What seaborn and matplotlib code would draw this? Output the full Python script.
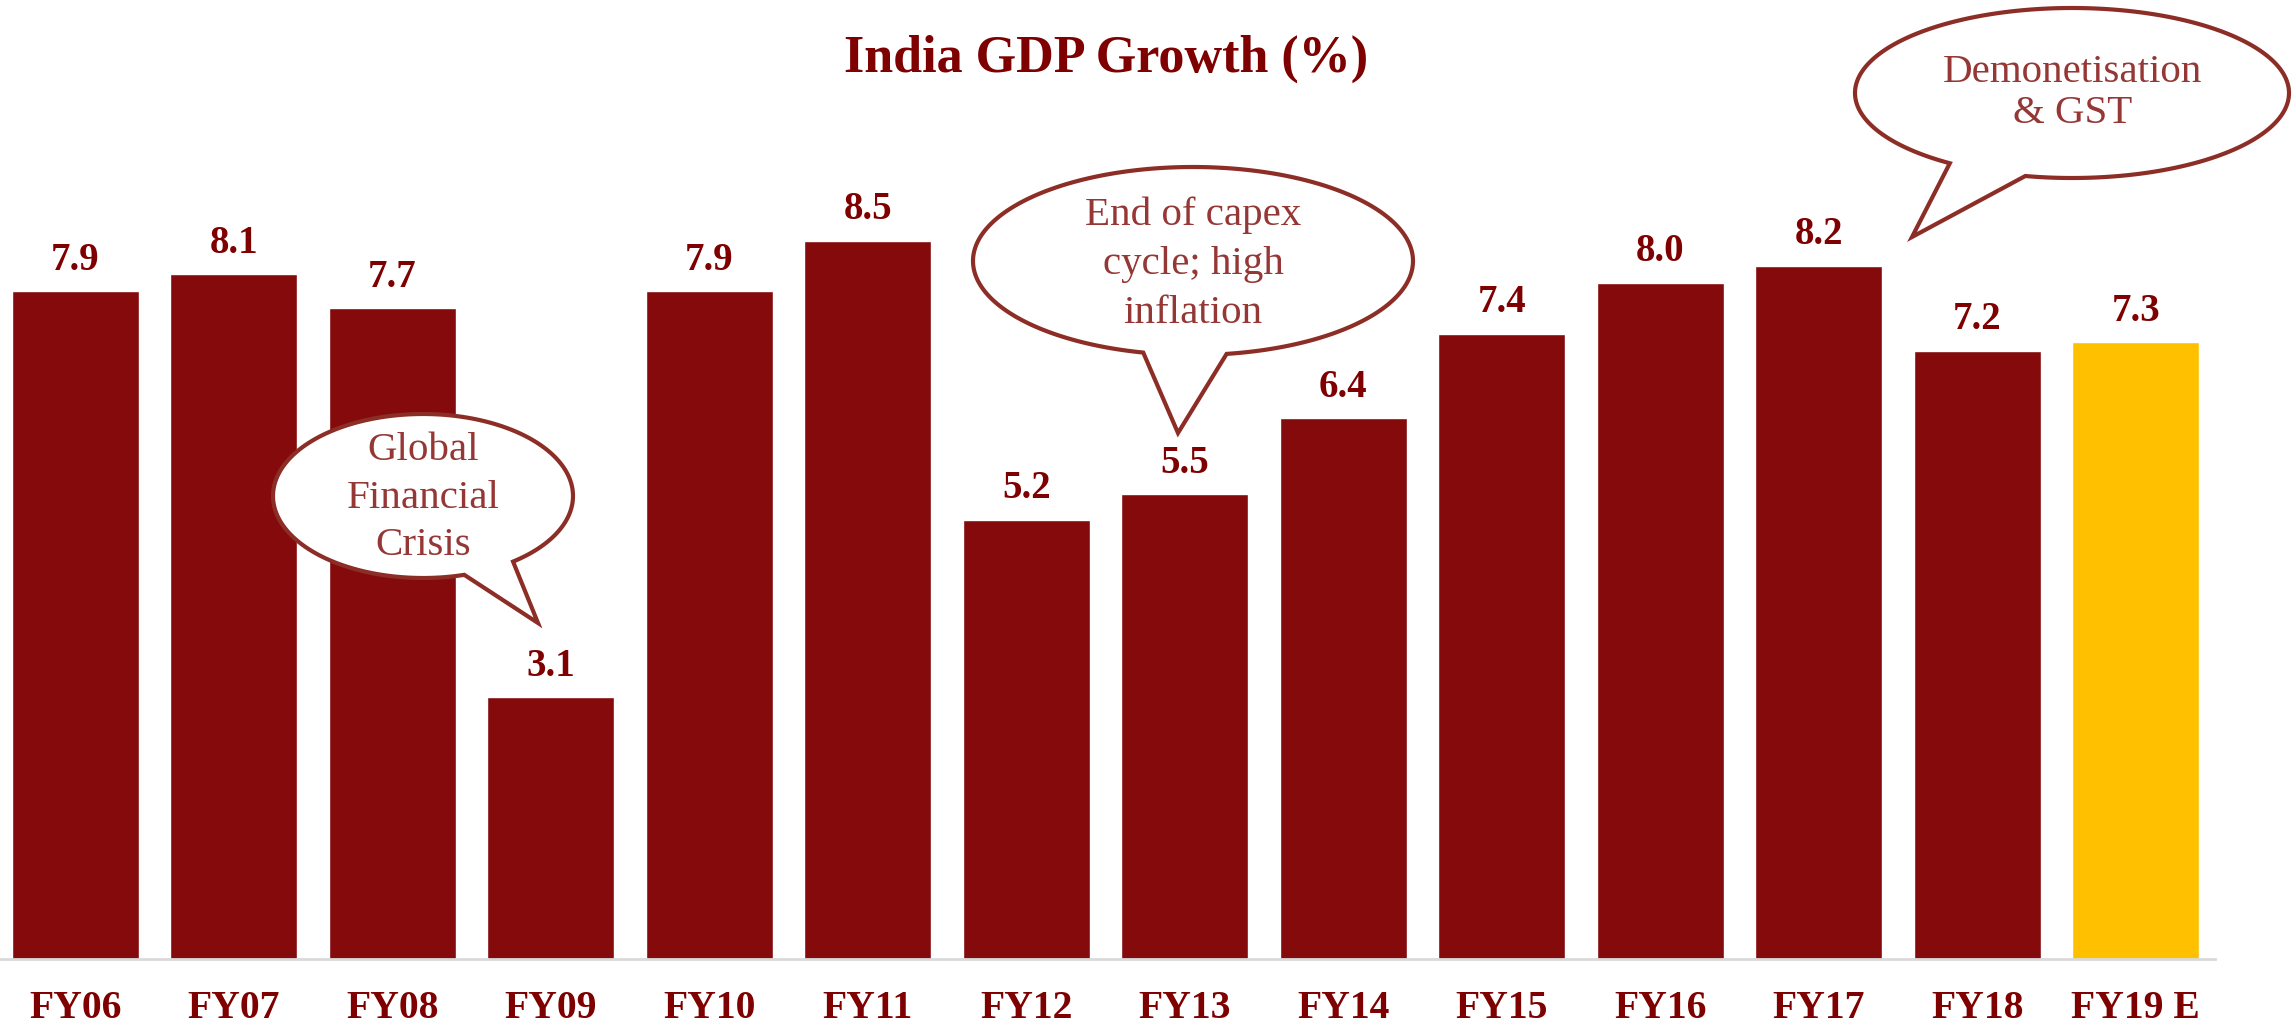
import matplotlib
matplotlib.use("Agg")
import matplotlib.pyplot as plt
import seaborn as sns
import pandas as pd
import numpy as np
from matplotlib.patches import Polygon
from matplotlib.transforms import Affine2D

# ---- data ----
years = ["FY06", "FY07", "FY08", "FY09", "FY10", "FY11", "FY12", "FY13",
         "FY14", "FY15", "FY16", "FY17", "FY18", "FY19 E"]
growth = [7.9, 8.1, 7.7, 3.1, 7.9, 8.5, 5.2, 5.5, 6.4, 7.4, 8.0, 8.2, 7.2, 7.3]
bar_colors = ["#840A0C"] * 13 + ["#FFC000"]
title_text = "India GDP Growth (%)"
callout_texts = ["Global\nFinancial\nCrisis",
                 "End of capex\ncycle; high\ninflation",
                 "Demonetisation\n& GST"]

W, H = 2292, 1031
sns.set_theme(style="white")
plt.rcParams['font.family'] = ['Liberation Serif', 'DejaVu Serif']

fig = plt.figure(figsize=(W / 100, H / 100), dpi=100)
ax = fig.add_axes([-4 / W, 72 / H, 2219 / W, 955 / H])

df = pd.DataFrame({"year": years, "growth": growth})
sns.barplot(data=df, x="year", y="growth", hue="year", palette=bar_colors,
            legend=False, width=0.8, saturation=1, ax=ax)
ax.set_xlim(-0.5, len(years) - 0.5)
ax.set_ylim(0, 11.3)
ax.set_xlabel("")
ax.set_ylabel("")
ax.set_yticks([])
for s in ["top", "left", "right"]:
    ax.spines[s].set_visible(False)
ax.spines["bottom"].set_color("#D9D9D9")
ax.spines["bottom"].set_linewidth(2)
ax.tick_params(axis="x", length=0, pad=22, labelsize=28.5, labelcolor="#7F0000")
for lbl in ax.get_xticklabels():
    lbl.set_fontweight("bold")

for c in ax.containers:
    ax.bar_label(c, fmt="%.1f", padding=9, fontsize=28, fontweight="bold",
                 color="#7F0000")

# ---- pixel transform (y from top) ----
px = Affine2D().scale(1 / W, -1 / H).translate(0, 1) + fig.transFigure


def bubble(cx, cy, a, b, b1, b2, tip, text, tx, ty, ls):
    def ang(p):
        return np.arctan2((p[1] - cy) / b, (p[0] - cx) / a)
    t1, t2 = ang(b1), ang(b2)
    lo, hi = min(t1, t2), max(t1, t2)
    t = np.linspace(hi, lo + 2 * np.pi, 300)
    pts = np.column_stack([cx + a * np.cos(t), cy + b * np.sin(t)])
    pts = np.vstack([pts, [tip]])
    poly = Polygon(pts, closed=True, facecolor="white", edgecolor="#8C2D26",
                   linewidth=3, transform=px, zorder=5)
    fig.add_artist(poly)
    fig.text(tx, ty, text, transform=px, ha="center", va="center",
             fontsize=29.5, color="#953735", linespacing=ls, zorder=6)


bubble(423, 496, 150, 82, (467, 580), (515, 563), (538, 623),
       callout_texts[0], 423, 498, 1.39)
bubble(1193, 261, 220, 94, (1143, 353), (1227, 355), (1178, 433),
       callout_texts[1], 1193, 264, 1.43)
bubble(2072, 93, 217, 85, (1952, 162), (2027, 173), (1912, 237),
       callout_texts[2], 2073, 93, 1.15)

fig.text(1106, 59, title_text, transform=px, ha="center", va="center",
         fontsize=37.5, fontweight="bold", color="#7F0000")

fig.savefig("out.png", dpi=100)
